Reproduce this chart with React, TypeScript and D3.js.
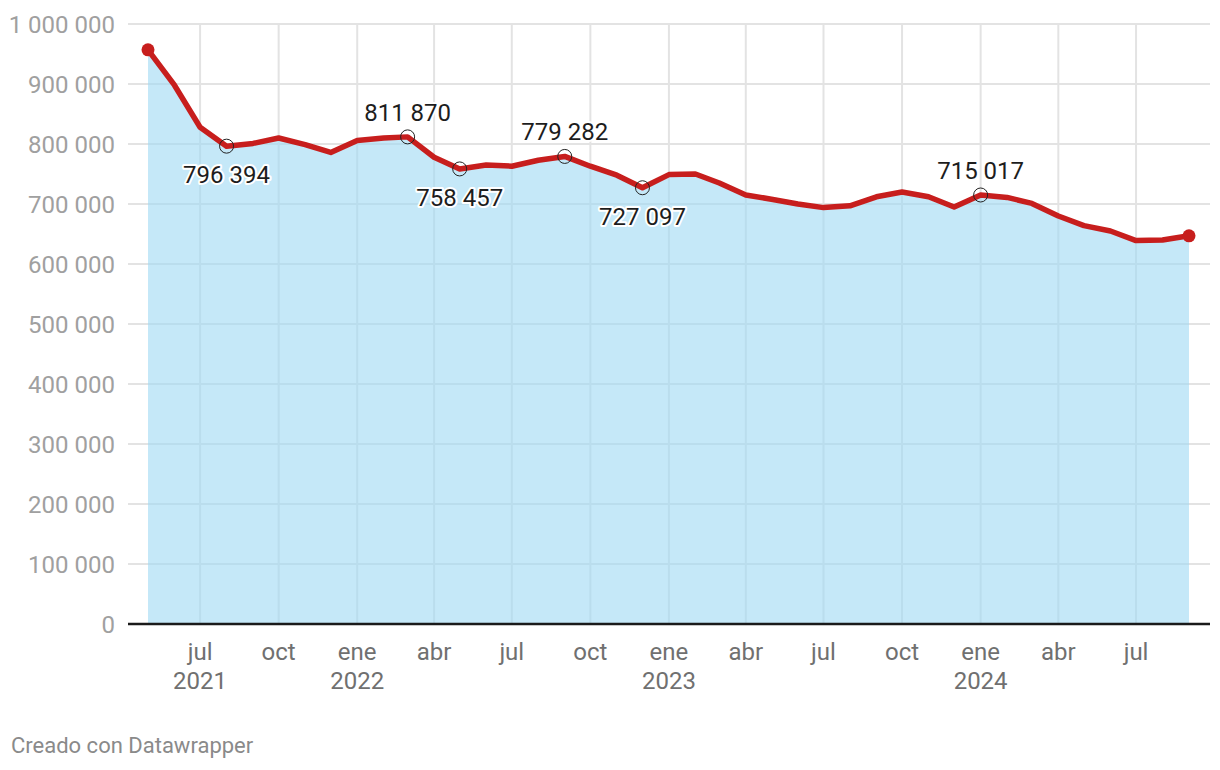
import React from "react";
import * as d3 from "d3";

const months: string[] = [
  "2021-05", "2021-06", "2021-07", "2021-08", "2021-09", "2021-10", "2021-11", "2021-12",
  "2022-01", "2022-02", "2022-03", "2022-04", "2022-05", "2022-06", "2022-07", "2022-08",
  "2022-09", "2022-10", "2022-11", "2022-12",
  "2023-01", "2023-02", "2023-03", "2023-04", "2023-05", "2023-06", "2023-07", "2023-08",
  "2023-09", "2023-10", "2023-11", "2023-12",
  "2024-01", "2024-02", "2024-03", "2024-04", "2024-05", "2024-06", "2024-07", "2024-08", "2024-09",
];

const values: number[] = [
  957000, 898000, 828000, 796394, 801000, 810000, 799000, 786000,
  806000, 810000, 811870, 778000, 758457, 765000, 763000, 773000,
  779282, 763000, 748000, 727097,
  749000, 750000, 735000, 715000, 708000, 700000, 694000, 697000,
  712000, 720000, 712000, 695000,
  715017, 711000, 701000, 680000, 664000, 655000, 639000, 640000, 647000,
];

// annotated points: month, position of label ("above" | "below")
const annotations: { month: string; pos: string }[] = [
  { month: "2021-08", pos: "below" },
  { month: "2022-03", pos: "above" },
  { month: "2022-05", pos: "below" },
  { month: "2022-09", pos: "above" },
  { month: "2022-12", pos: "below" },
  { month: "2024-01", pos: "above" },
];

const yTicks: number[] = [0, 100000, 200000, 300000, 400000, 500000, 600000, 700000, 800000, 900000, 1000000];

const xTicks: { date: string; label: string; year?: string }[] = [
  { date: "2021-07", label: "jul", year: "2021" },
  { date: "2021-10", label: "oct" },
  { date: "2022-01", label: "ene", year: "2022" },
  { date: "2022-04", label: "abr" },
  { date: "2022-07", label: "jul" },
  { date: "2022-10", label: "oct" },
  { date: "2023-01", label: "ene", year: "2023" },
  { date: "2023-04", label: "abr" },
  { date: "2023-07", label: "jul" },
  { date: "2023-10", label: "oct" },
  { date: "2024-01", label: "ene", year: "2024" },
  { date: "2024-04", label: "abr" },
  { date: "2024-07", label: "jul" },
];

const parse = (s: string) => new Date(+s.slice(0, 4), +s.slice(5, 7) - 1, 1);
const fmt = (v: number) => d3.format(",")(v).replace(/,/g, " ");

export default function App() {
  const W = 1220;
  const H = 770;
  const data = months.map((m, i) => ({ date: parse(m), value: values[i], key: m }));
  const x = d3.scaleTime().domain([parse(months[0]), parse(months[months.length - 1])]).range([148, 1189]);
  const y = d3.scaleLinear().domain([0, 1000000]).range([624, 24]);
  const gridLeft = 128;
  const gridRight = 1210;

  const area = d3.area<any>().x((d) => x(d.date)).y0(y(0)).y1((d) => y(d.value));
  const line = d3.line<any>().x((d) => x(d.date)).y((d) => y(d.value));
  const first = data[0];
  const last = data[data.length - 1];
  const font = "Roboto, 'Noto Sans', sans-serif";

  return (
    <svg width={W} height={H} style={{ position: "absolute", left: 0, top: 0, background: "#fff" }} fontFamily={font}>
      {yTicks.map((t) => (
        <line key={"gy" + t} x1={gridLeft} x2={gridRight} y1={y(t)} y2={y(t)} stroke="#e3e3e3" strokeWidth={2} />
      ))}
      {xTicks.map((t) => (
        <line key={"gx" + t.date} x1={x(parse(t.date))} x2={x(parse(t.date))} y1={y(1000000)} y2={y(0)} stroke="#e3e3e3" strokeWidth={2} />
      ))}
      <path d={area(data) || ""} fill="#9fd9f3" fillOpacity={0.6} />
      <line x1={gridLeft} x2={gridRight} y1={y(0)} y2={y(0)} stroke="#1a1a1a" strokeWidth={2.5} />
      <path d={line(data) || ""} fill="none" stroke="#c71e1d" strokeWidth={5.5} strokeLinejoin="round" strokeLinecap="round" />
      <circle cx={x(first.date)} cy={y(first.value)} r={6.5} fill="#c71e1d" />
      <circle cx={x(last.date)} cy={y(last.value)} r={6.5} fill="#c71e1d" />
      {annotations.map((a) => {
        const d = data.find((e) => e.key === a.month)!;
        const cx = x(d.date);
        const cy = y(d.value);
        const ty = a.pos === "above" ? cy - 16 : cy + 37;
        return (
          <g key={"a" + a.month}>
            <circle cx={cx} cy={cy} r={7} fill="none" stroke="#222" strokeWidth={1} />
            <text x={cx} y={ty} textAnchor="middle" fontSize={24} fill="#1d1d1d" stroke="#fff" strokeWidth={4} strokeLinejoin="round" style={{ paintOrder: "stroke" }}>
              {fmt(d.value)}
            </text>
          </g>
        );
      })}
      {yTicks.map((t) => (
        <text key={"ty" + t} x={115} y={y(t) + 8.5} textAnchor="end" fontSize={24} fill="#a0a0a0">
          {fmt(t)}
        </text>
      ))}
      {xTicks.map((t) => (
        <g key={"tx" + t.date}>
          <text x={x(parse(t.date))} y={659.5} textAnchor="middle" fontSize={24} fill="#707070">{t.label}</text>
          {t.year && (
            <text x={x(parse(t.date))} y={689} textAnchor="middle" fontSize={24} fill="#707070">{t.year}</text>
          )}
        </g>
      ))}
      <text x={11} y={753} fontSize={22} fill="#8a8a8a">Creado con Datawrapper</text>
    </svg>
  );
}
